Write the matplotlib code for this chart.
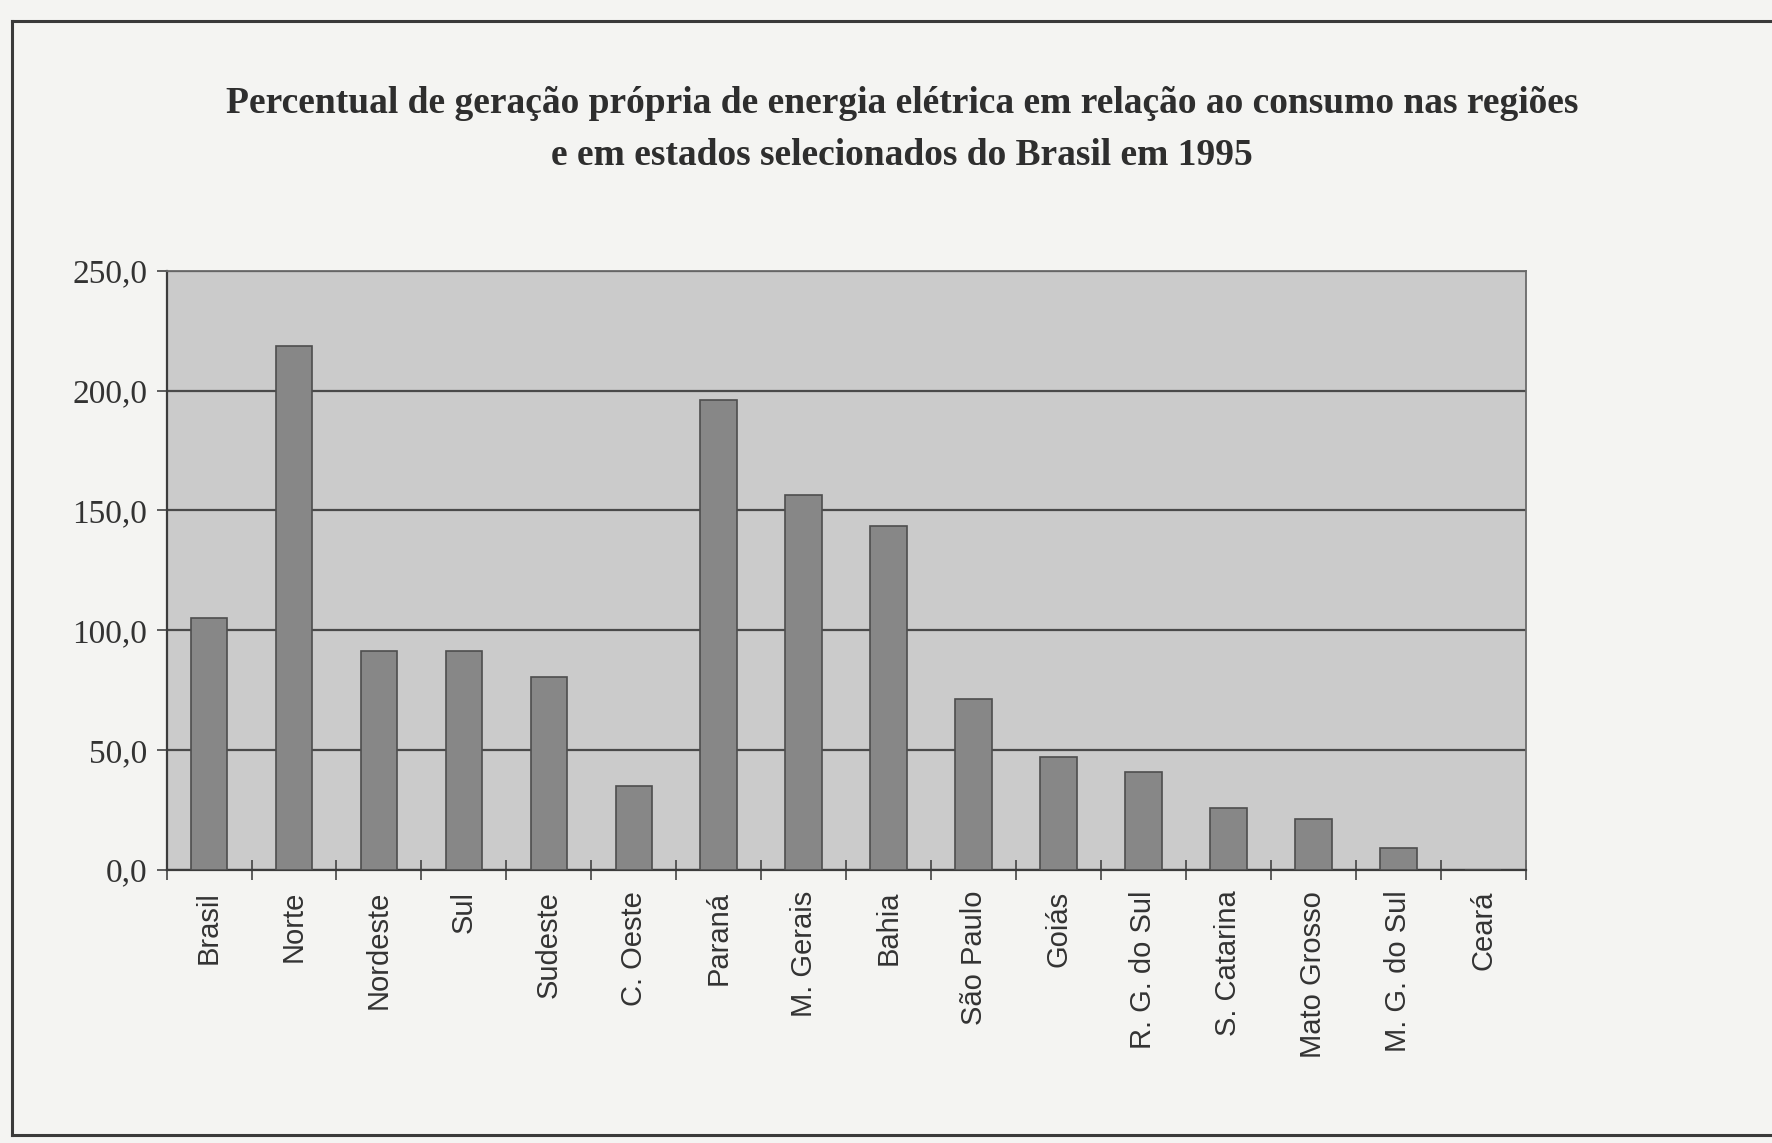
import matplotlib.pyplot as plt
from matplotlib.lines import Line2D

regioes = ['Brasil', 'Norte', 'Nordeste', 'Sul', 'Sudeste', 'C. Oeste', 'Paraná',
           'M. Gerais', 'Bahia', 'São Paulo', 'Goiás', 'R. G. do Sul', 'S. Catarina',
           'Mato Grosso', 'M. G. do Sul', 'Ceará']
percentual = [105.0, 218.5, 91.5, 91.4, 80.6, 35.0, 196.3, 156.4, 143.6, 71.3,
              46.9, 40.8, 25.6, 21.4, 9.3, 0.0]
y_ticks = [0, 50, 100, 150, 200, 250]
y_labels = ['0,0', '50,0', '100,0', '150,0', '200,0', '250,0']

titulo = ('Percentual de geração própria de energia elétrica em relação ao consumo nas regiões\n'
          'e em estados selecionados do Brasil em 1995')

fig = plt.figure(figsize=(17.72, 11.43), dpi=100)
fig.patch.set_facecolor('#f4f4f2')

# moldura do gráfico (aberta à direita)
frame_kw = dict(color='#3a3a3a', lw=2.2, transform=fig.transFigure)
fig.add_artist(Line2D([0.007, 1.0], [0.982, 0.982], **frame_kw))
fig.add_artist(Line2D([0.007, 0.007], [0.982, 0.007], **frame_kw))
fig.add_artist(Line2D([0.007, 1.0], [0.007, 0.007], **frame_kw))

ax = fig.add_axes([0.094, 0.239, 0.767, 0.524])
ax.set_facecolor('#cbcbcb')

x = range(len(regioes))
ax.bar(x, percentual, width=0.43, color='#878787', edgecolor='#4e4e4e',
       linewidth=1.2, zorder=3)

ax.set_ylim(0, 250)
ax.set_xlim(-0.5, len(regioes) - 0.5)
ax.set_yticks(y_ticks)
ax.set_yticklabels(y_labels, fontfamily='Liberation Serif', fontsize=24, color='#333333')
ax.yaxis.grid(True, color='#4a4a4a', linewidth=1.6, zorder=1)
ax.tick_params(axis='y', length=7, width=1.2, color='#444444', pad=7)

# marcas do eixo x entre as categorias, rótulos no centro das barras
ax.set_xticks([i + 0.5 for i in range(-1, len(regioes))], minor=False)
ax.set_xticklabels([])
ax.set_xticks(list(x), minor=True)
ax.set_xticklabels(regioes, minor=True, rotation=90, fontfamily='Liberation Sans',
                   fontsize=21, color='#333333', va='top')
ax.tick_params(axis='x', which='major', direction='inout', length=14, width=1.2,
               color='#444444')
ax.tick_params(axis='x', which='minor', length=0, pad=15)

for side in ['left', 'bottom']:
    ax.spines[side].set_color('#3c3c3c')
    ax.spines[side].set_linewidth(1.6)
for side in ['top', 'right']:
    ax.spines[side].set_color('#6a6a6a')
    ax.spines[side].set_linewidth(1.3)

fig.text(0.509, 0.887, titulo, ha='center', va='center', fontfamily='Liberation Serif',
         fontweight='bold', fontsize=27, color='#2e2e2e', linespacing=1.62)

plt.savefig('out.png', dpi=100, facecolor=fig.get_facecolor())
